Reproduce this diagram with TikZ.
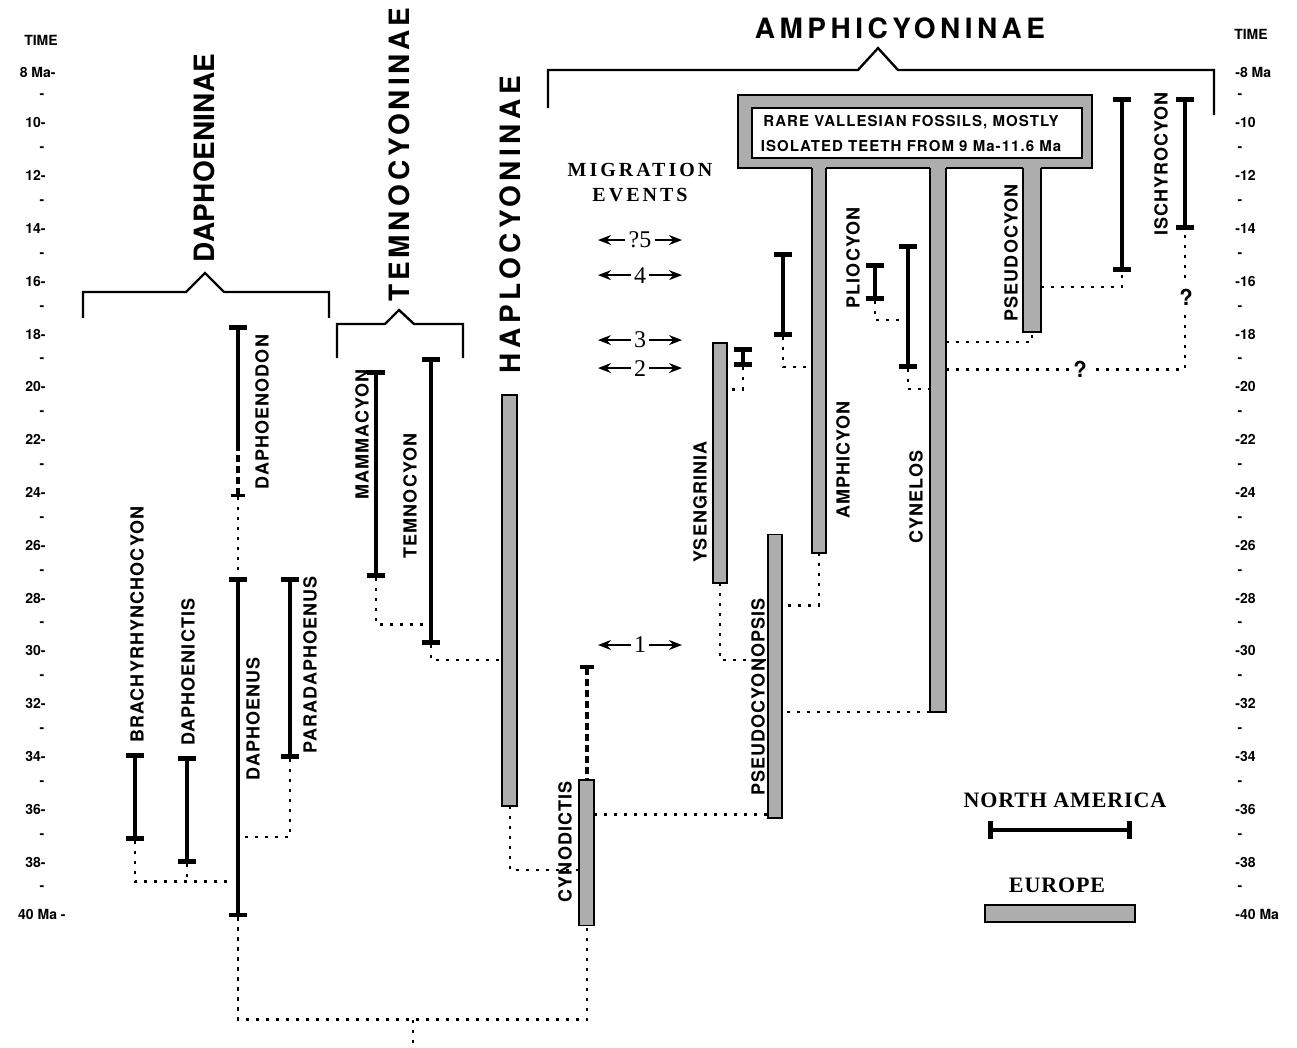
\documentclass[tikz,border=0pt]{standalone}
\usepackage{fontspec}
\setmainfont{Liberation Serif}
\setsansfont{TeX Gyre Heros}
\newfontfamily\genusfont[LetterSpace=6]{TeX Gyre Heros}
\newfontfamily\groupfont[LetterSpace=16]{TeX Gyre Heros}
\newfontfamily\groupnarrow[LetterSpace=14]{TeX Gyre Heros}
\newfontfamily\groupshort[LetterSpace=1]{TeX Gyre Heros}
\newfontfamily\boxfont[LetterSpace=7]{TeX Gyre Heros}
\newfontfamily\legendfont[LetterSpace=4]{Liberation Serif}
\newfontfamily\migfont[LetterSpace=15]{Liberation Serif}
\usetikzlibrary{arrows.meta}
\definecolor{europe}{gray}{0.68}
\tikzset{
  timelabel/.style={font=\sffamily\bfseries\fontsize{7}{8}\selectfont, inner sep=0pt},
  genus/.style={font=\genusfont\bfseries\fontsize{9}{9}\selectfont, rotate=90, inner sep=0pt},
  group/.style={font=\groupfont\bfseries\fontsize{14}{14}\selectfont, inner sep=0pt},
  nabar/.style={line width=2pt, arrows={Bar[width=9pt,line width=2.4pt]-Bar[width=9pt,line width=2.4pt]}},
  natop/.style={line width=2pt, arrows={-Bar[width=9pt,line width=2.4pt]}},
  eubar/.style={draw, line width=0.8pt, fill=europe},
  gap/.style={line width=2.4pt, dash pattern=on 3.5pt off 2pt},
  link/.style={line width=1.4pt, dash pattern=on 1.6pt off 3.4pt},
  bracket/.style={line width=1.2pt},
  legend/.style={font=\legendfont\bfseries\fontsize{11}{11}\selectfont},
  migtitle/.style={font=\migfont\bfseries\fontsize{10}{10}\selectfont, inner sep=0pt},
  event/.style={font=\fontsize{12}{12}\selectfont, inner sep=1.5pt},
  evarrow/.style={line width=0.7pt, -{Stealth[length=6.5pt,width=5pt]}},
  query/.style={font=\sffamily\bfseries\fontsize{11}{11}\selectfont, fill=white, inner sep=2pt}
}
\begin{document}
\begin{tikzpicture}[x=0.5pt,y=-13.2pt]
\useasboundingbox (0,5.348) rectangle (1297,45.045);

% time scales
\node[timelabel] (tl) at (41,6.88) {TIME};
\node[timelabel] (tr) at (1251,6.64) {TIME};
\node[timelabel,anchor=east] (l8) at (56,8.1) {8 Ma-};
\node[timelabel,anchor=west] (r8) at (1235,8.1) {-8 Ma};
\foreach \m in {10,12,...,38}{
  \node[timelabel,anchor=east] (l\m) at (46,\m) {\m-};
  \node[timelabel,anchor=west] (r\m) at (1235,\m) {-\m};
}
\node[timelabel,anchor=east] (l40) at (66,40) {40 Ma -};
\node[timelabel,anchor=west] (r40) at (1235,40) {-40 Ma};
\foreach \m in {9,11,...,39}{
  \node[timelabel] (lt\m) at (42,\m) {-};
  \node[timelabel] (rt\m) at (1240,\m) {-};
}

% subfamilies
\draw[bracket] (83,17.39) |- (186,16.41) -- (205,15.69) -- (224,16.41) -| (329,17.39);
\draw[bracket] (337,18.91) |- (385,17.62) -- (399,17.09) -- (414,17.62) -| (463,18.91);
\draw[bracket] (548,9.44) |- (858,8.0) -- (878,7.17) -- (898,8.0) -| (1214,9.71);
\node[group,font=\groupshort\bfseries\fontsize{14}{14}\selectfont,rotate=90,anchor=west] (daphn) at (204,15.3) {DAPHOENINAE};
\node[group,font=\groupnarrow\bfseries\fontsize{14}{14}\selectfont,rotate=90,anchor=west] (temnn) at (399,16.8) {TEMNOCYONINAE};
\node[group,rotate=90,anchor=west] (haplon) at (510,19.5) {HAPLOCYONINAE};
\node[group] (amphn) at (900,6.41) {AMPHICYONINAE};

% vallesian box
\draw[fill=europe,line width=0.8pt] (738,8.95) rectangle (1092,11.71);
\draw[fill=white,line width=0.8pt] (752,9.44) rectangle (1082,11.33);
\node[font=\boxfont\bfseries\fontsize{7.5}{12.5}\selectfont, align=center] (vallesian) at (911,10.42)
  {RARE VALLESIAN FOSSILS, MOSTLY\\ISOLATED TEETH FROM 9 Ma-11.6 Ma};
\foreach \a/\b/\e in {812/826/26.3, 930/946/32.32, 1023/1041/17.92}{
  \fill[europe] (\a,11.6) rectangle (\b,\e);
  \draw[line width=0.8pt] (\a,11.71) |- (\b,\e) -- (\b,11.71);
}

% europe
\draw[eubar] (502,20.3) rectangle (517,35.88);
\draw[eubar] (579,34.9) rectangle (594,40.4);
\draw[eubar] (713,18.34) rectangle (727,27.43);
\draw[eubar] (768,25.6) rectangle (782,36.33);

% north america
\coordinate (brachyT) at (135,33.87); \coordinate (brachyB) at (135,37.2);
\coordinate (dictisT) at (187,33.99); \coordinate (dictisB) at (187,38.08);
\coordinate (daphT) at (238,27.2); \coordinate (daphB) at (238,40.1);
\coordinate (odonT) at (238,17.65); \coordinate (odonM) at (238,22.3); \coordinate (odonB) at (238,24.17);
\coordinate (paraT) at (290,27.2); \coordinate (paraB) at (290,34.1);
\coordinate (mammT) at (376,19.36); \coordinate (mammB) at (376,27.24);
\coordinate (temnoT) at (431,18.87); \coordinate (temnoB) at (431,29.78);
\coordinate (haploB) at (510,35.88);
\coordinate (cynoD) at (587,30.55); \coordinate (cynoT) at (587,34.9); \coordinate (cynoB) at (587,40.4);
\coordinate (ysenB) at (720,27.43);
\coordinate (ysnT) at (743,18.5); \coordinate (ysnB) at (743,19.25);
\coordinate (amnT) at (783,14.9); \coordinate (amnB) at (783,18.1);
\coordinate (amphB) at (819,26.3);
\coordinate (plioT) at (875,15.3); \coordinate (plioB) at (875,16.75);
\coordinate (cynaT) at (908,14.6); \coordinate (cynaB) at (908,19.33);
\coordinate (pseudoB) at (1032,17.92);
\coordinate (pscT) at (1122,9.02); \coordinate (pscB) at (1122,15.65);
\coordinate (ischT) at (1185,9.02); \coordinate (ischB) at (1185,14.05);

\foreach \t/\b in {brachyT/brachyB, dictisT/dictisB, daphT/daphB, paraT/paraB, mammT/mammB,
  temnoT/temnoB, ysnT/ysnB, amnT/amnB, plioT/plioB, cynaT/cynaB, pscT/pscB, ischT/ischB}
  \draw[nabar] (\t) -- (\b);
\draw[natop] (odonM) -- (odonT);
\draw[gap, arrows={Bar[width=7pt,line width=1.5pt]-}] (odonB) -- (odonM);
\draw[gap, arrows={Bar[width=7pt,line width=2pt]-}] (cynoD) -- (cynoT);

% joins
\coordinate (daphJ1) at (231,38.75); \coordinate (daphJ2) at (245,37.05);
\coordinate (temnoJ) at (424,29.0); \coordinate (haploJ) at (502,30.35);
\coordinate (cynoJ) at (579,38.3); \coordinate (cynoR) at (594,36.2);
\coordinate (root) at (413,43.98); \coordinate (base) at (413,45.2);
\coordinate (psopsL) at (768,36.2); \coordinate (psopsJ1) at (768,30.35);
\coordinate (psopsJ2) at (782,28.27); \coordinate (psopsR) at (782,32.32);
\coordinate (ysenJ) at (727,20.1); \coordinate (amphJ) at (812,19.25);
\coordinate (cyneJ1) at (905,17.47); \coordinate (cyneJ2) at (930,20.08);
\coordinate (cyneL) at (930,32.32); \coordinate (cyneR1) at (946,18.3);
\coordinate (cyneR2) at (946,19.33); \coordinate (pseudoR) at (1041,16.22);

\draw[link] (brachyB) |- (daphJ1);
\draw[link] (dictisB) -- (dictisB |- daphJ1);
\draw[link] (paraB) |- (daphJ2);
\draw[link] (odonB) -- (daphT);
\draw[link] (mammB) |- (temnoJ);
\draw[link] (temnoB) |- (haploJ);
\draw[link] (haploB) |- (cynoJ);
\draw[link] (daphB) |- (root) -| (cynoB);
\draw[link] (root) -- (base);
\draw[link] (cynoR) -- (psopsL);
\draw[link] (ysenB) |- (psopsJ1);
\draw[link] (ysnB) |- (ysenJ);
\draw[link] (amnB) |- (amphJ);
\draw[link] (amphB) |- (psopsJ2);
\draw[link] (plioB) |- (cyneJ1);
\draw[link] (cynaB) |- (cyneJ2);
\draw[link] (cyneL) -- (psopsR);
\draw[link] (cyneR1) -| (pseudoB);
\draw[link] (pseudoR) -| (pscB);
\draw[link] (cyneR2) -| (ischB);
\node[query] (q1) at (1080,19.33) {?};
\node[query] (q2) at (1186,16.6) {?};

% genera
\node[genus,anchor=west] (brachy) at (137,33.5) {BRACHYRHYNCHOCYON};
\node[genus,anchor=west] (dictis) at (188,33.62) {DAPHOENICTIS};
\node[genus] (daph) at (253,32.58) {DAPHOENUS};
\node[genus] (odon) at (262,20.96) {DAPHOENODON};
\node[genus,anchor=west] (para) at (310,33.9) {PARADAPHOENUS};
\node[genus] (mamm) at (362,21.8) {MAMMACYON};
\node[genus] (temno) at (410,24.14) {TEMNOCYON};
\node[genus] (cyno) at (565,37.24) {CYNODICTIS};
\node[genus] (ysen) at (700,24.36) {YSENGRINIA};
\node[genus] (psops) at (758,31.75) {PSEUDOCYONOPSIS};
\node[genus] (amph) at (843,22.77) {AMPHICYON};
\node[genus] (plio) at (853,15.12) {PLIOCYON};
\node[genus] (cyne) at (916,24.17) {CYNELOS};
\node[genus] (pseudo) at (1011,14.93) {PSEUDOCYON};
\node[genus] (isch) at (1161,11.56) {ISCHYROCYON};

% migration events
\node[migtitle] (mig) at (640,11.79) {MIGRATION};
\node[migtitle] (evt) at (640,12.73) {EVENTS};
\foreach \lab/\ma/\nm in {?5/14.44/m5, 4/15.77/m4, 3/18.23/m3, 2/19.29/m2, 1/29.78/m1}{
  \node[event] (\nm) at (640,\ma) {\lab};
  \coordinate (\nm l) at (598,\ma);
  \coordinate (\nm r) at (682,\ma);
  \draw[evarrow] (\nm.west) -- (\nm l);
  \draw[evarrow] (\nm.east) -- (\nm r);
}

% legend
\node[legend] (nam) at (1065,35.65) {NORTH AMERICA};
\coordinate (naL) at (988,36.79); \coordinate (naR) at (1132,36.79);
\draw[nabar] (naL) -- (naR);
\node[legend] (eur) at (1057,38.87) {EUROPE};
\draw[eubar] (985,39.63) rectangle (1135,40.27);
\end{tikzpicture}
\end{document}
